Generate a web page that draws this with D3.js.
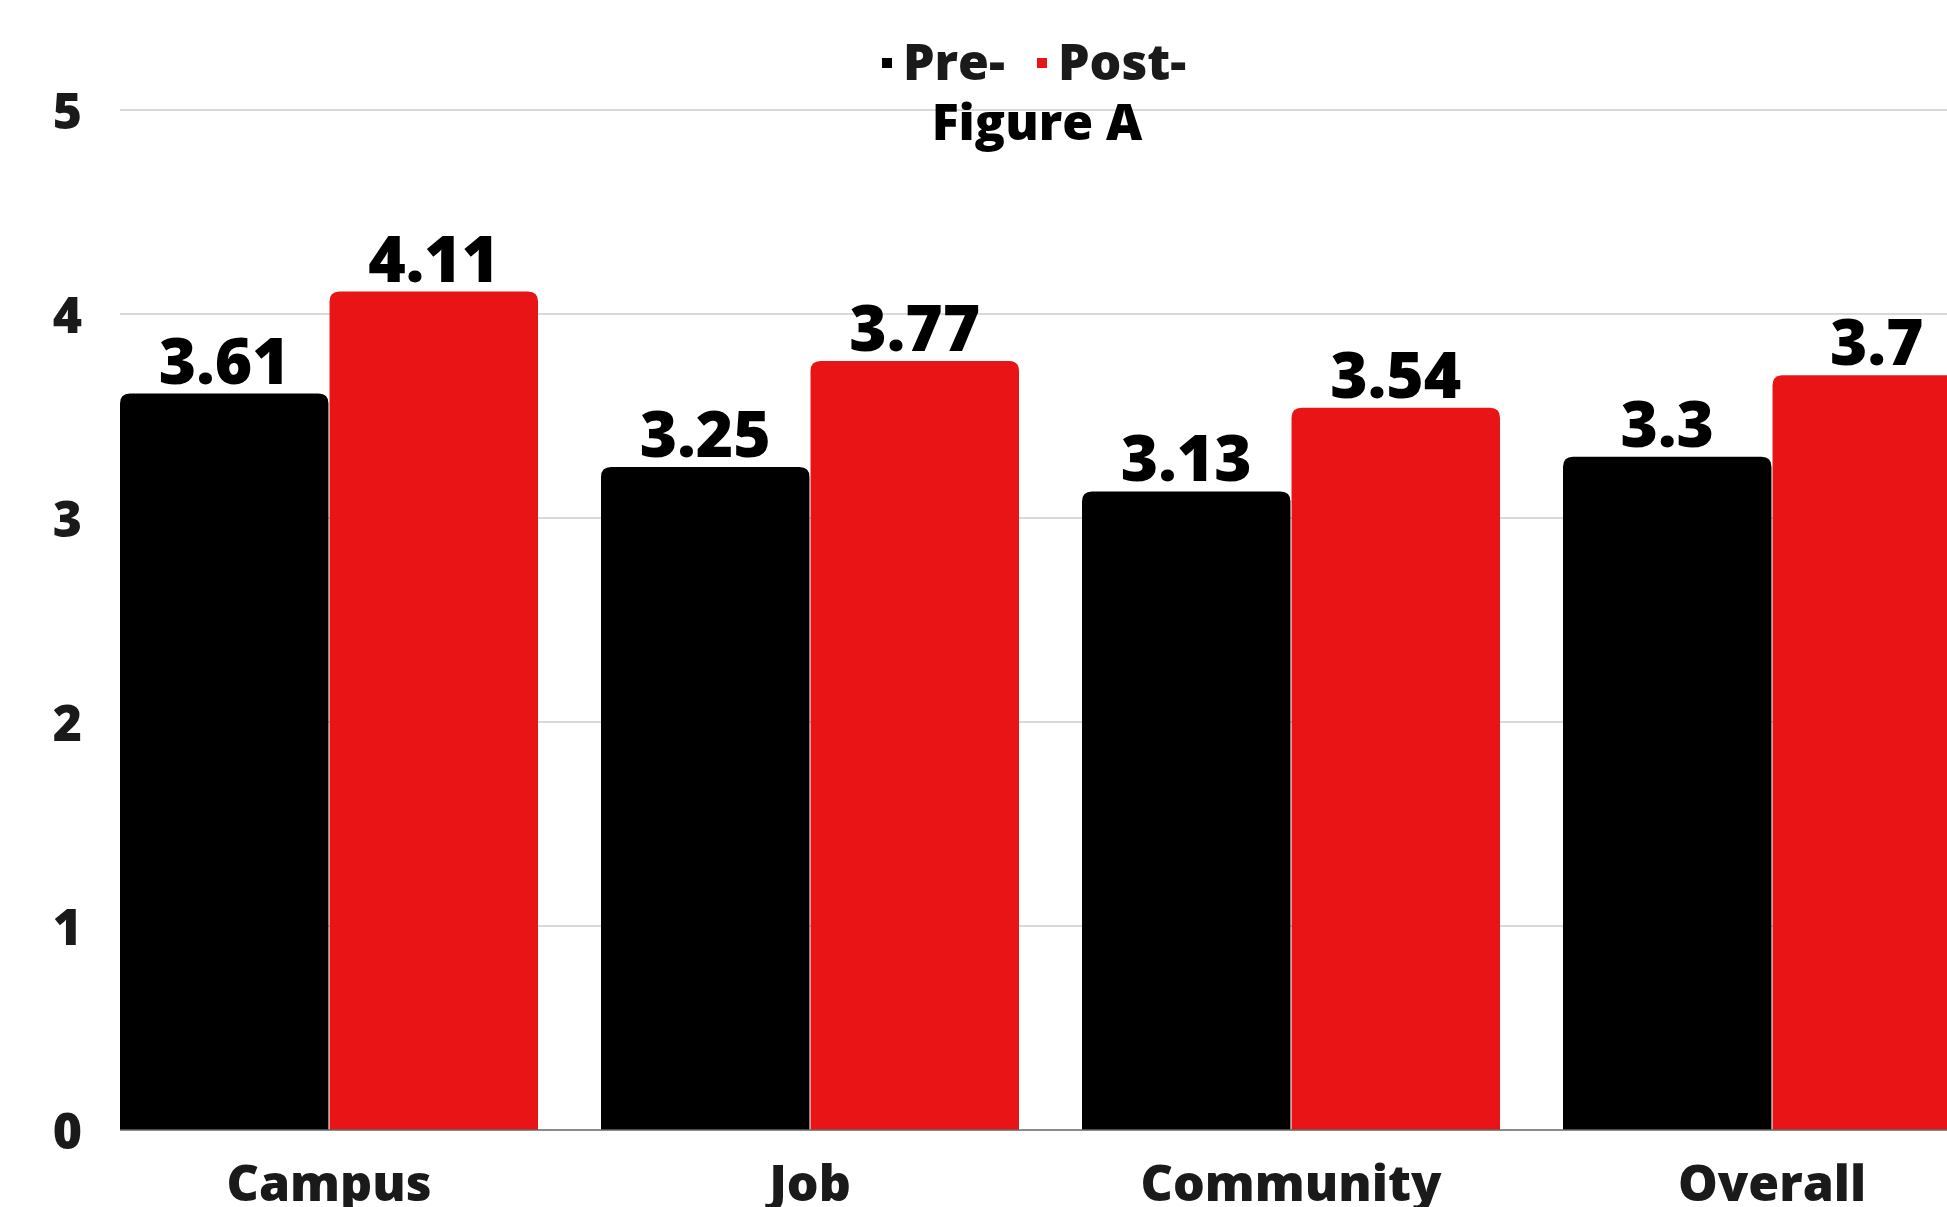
<!DOCTYPE html>
<html>
<head>
<meta charset="utf-8">
<script src="https://cdn.jsdelivr.net/npm/d3@7"></script>
<style>
  html, body { margin: 0; padding: 0; background: #fff; }
  svg text { font-family: "Open Sans", "DejaVu Sans", sans-serif; font-weight: 800; }
</style>
</head>
<body>
<div id="my_dataviz"></div>
<script>
// data
const categories = ["Campus", "Job", "Community", "Overall"];
const seriesNames = ["Pre-", "Post-"];
const preValues = [3.61, 3.25, 3.13, 3.3];
const postValues = [4.11, 3.77, 3.54, 3.7];
const yTicks = [0, 1, 2, 3, 4, 5];
const title = "Figure A";

const colors = { "Pre-": "#000000", "Post-": "#e81416" };

const width = 1947, height = 1207;
const plotLeft = 120, plotTop = 110, plotBottom = 1130;

const svg = d3.select("#my_dataviz")
  .append("svg")
  .attr("width", width)
  .attr("height", height);

// scales
const step = 481, gap = 63;
const x0 = d3.scaleBand()
  .domain(categories)
  .range([plotLeft - gap / 2, plotLeft - gap / 2 + step * categories.length])
  .paddingInner(gap / step)
  .paddingOuter(gap / step / 2);

const x1 = d3.scaleBand()
  .domain(seriesNames)
  .range([0, x0.bandwidth()])
  .paddingInner(0.005);

const y = d3.scaleLinear()
  .domain([0, 5])
  .range([plotBottom, plotTop]);

// gridlines
svg.append("g")
  .selectAll("line")
  .data(yTicks.filter(d => d > 0))
  .join("line")
  .attr("x1", plotLeft)
  .attr("x2", width)
  .attr("y1", d => y(d))
  .attr("y2", d => y(d))
  .attr("stroke", "#cccccc")
  .attr("stroke-width", 1.5);

// y axis labels
const yAxis = svg.append("g")
  .attr("transform", `translate(${plotLeft - 38},0)`)
  .call(d3.axisLeft(y).tickValues(yTicks).tickSize(0).tickPadding(0).tickFormat(d3.format("d")));
yAxis.select(".domain").remove();
yAxis.selectAll("text")
  .attr("font-size", 50)
  .attr("fill", "#1a1a1a")
  .attr("dy", "0.36em");

// bars with rounded top corners
const r = 10;
function barPath(x, w, top, bottom) {
  return `M${x},${bottom}V${top + r}Q${x},${top} ${x + r},${top}H${x + w - r}Q${x + w},${top} ${x + w},${top + r}V${bottom}Z`;
}

const rows = categories.map((c, i) => ({
  category: c,
  values: [
    { key: "Pre-", value: preValues[i] },
    { key: "Post-", value: postValues[i] }
  ]
}));

const groups = svg.append("g")
  .selectAll("g")
  .data(rows)
  .join("g")
  .attr("transform", d => `translate(${x0(d.category)},0)`);

groups.selectAll("path")
  .data(d => d.values)
  .join("path")
  .attr("d", d => barPath(x1(d.key), x1.bandwidth(), y(d.value), y(0)))
  .attr("fill", d => colors[d.key]);

groups.selectAll("text")
  .data(d => d.values)
  .join("text")
  .attr("x", d => x1(d.key) + x1.bandwidth() / 2)
  .attr("y", d => y(d.value) - 10)
  .attr("text-anchor", "middle")
  .attr("font-size", 64)
  .attr("fill", "#000")
  .text(d => d.value);

// baseline
svg.append("line")
  .attr("x1", plotLeft)
  .attr("x2", width)
  .attr("y1", y(0))
  .attr("y2", y(0))
  .attr("stroke", "#666666")
  .attr("stroke-width", 1.5);

// x axis labels
const xAxis = svg.append("g")
  .attr("transform", `translate(0,${plotBottom})`)
  .call(d3.axisBottom(x0).tickSize(0).tickPadding(0));
xAxis.select(".domain").remove();
xAxis.selectAll("text")
  .attr("font-size", 50)
  .attr("fill", "#1a1a1a")
  .attr("dy", 0)
  .attr("y", 71);

// legend
const legendX = [882, 1037];
const legend = svg.append("g")
  .selectAll("g")
  .data(seriesNames)
  .join("g")
  .attr("transform", (d, i) => `translate(${legendX[i]},0)`);
legend.append("rect")
  .attr("x", 0)
  .attr("y", 58)
  .attr("width", 10)
  .attr("height", 10)
  .attr("fill", d => colors[d]);
legend.append("text")
  .attr("x", 21)
  .attr("y", 80)
  .attr("font-size", 50)
  .attr("fill", "#1a1a1a")
  .text(d => d);

// title
svg.append("text")
  .attr("x", 1037)
  .attr("y", 140)
  .attr("text-anchor", "middle")
  .attr("font-size", 50)
  .attr("fill", "#000")
  .text(title);
</script>
</body>
</html>
